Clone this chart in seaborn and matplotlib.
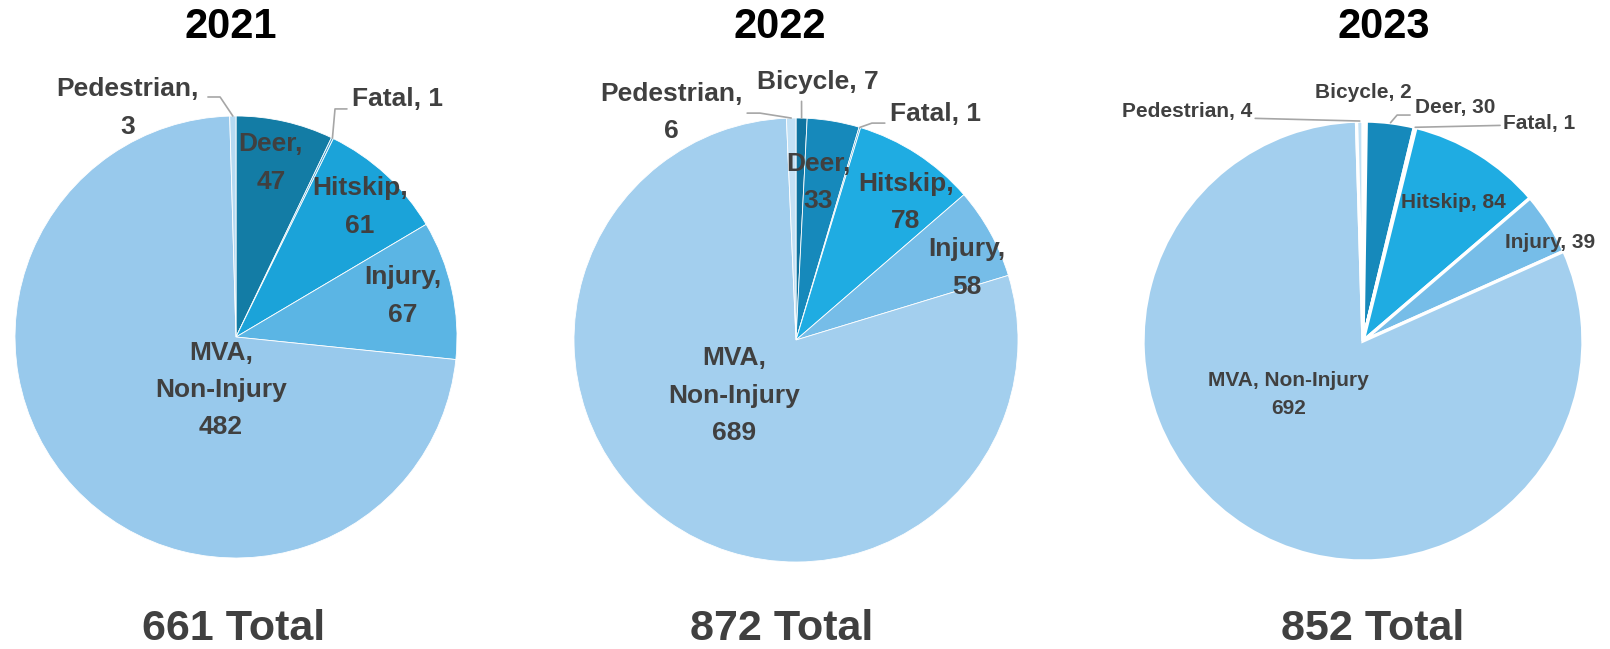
import matplotlib
matplotlib.use("Agg")
import numpy as np
import matplotlib.pyplot as plt
import seaborn as sns

sns.set_theme(style="white")
plt.rcParams["font.family"] = ["Liberation Sans", "DejaVu Sans"]

W, H = 1610, 649
TEXT_GREY = "#404040"
LEADER_GREY = "#A6A6A6"

# ---- data -------------------------------------------------------------
years = ["2021", "2022", "2023"]

cats_2021 = ["Deer", "Fatal", "Hitskip", "Injury", "MVA, Non-Injury", "Pedestrian"]
counts_2021 = [47, 1, 61, 67, 482, 3]

cats_2022 = ["Bicycle", "Deer", "Fatal", "Hitskip", "Injury", "MVA, Non-Injury", "Pedestrian"]
counts_2022 = [7, 33, 1, 78, 58, 689, 6]

cats_2023 = ["Bicycle", "Deer", "Fatal", "Hitskip", "Injury", "MVA, Non-Injury", "Pedestrian"]
counts_2023 = [2, 30, 1, 84, 39, 692, 4]

colors_2021 = {"Deer": "#137CA5", "Fatal": "#3E9CCB", "Hitskip": "#1BA3D9",
               "Injury": "#5BB5E4", "MVA, Non-Injury": "#98C9EC", "Pedestrian": "#B5DAF2"}
colors_2022 = {"Bicycle": "#0F74A0", "Deer": "#1689BB", "Fatal": "#3E9CCB", "Hitskip": "#1FACE2",
               "Injury": "#76BDE8", "MVA, Non-Injury": "#A3CFEE", "Pedestrian": "#C3E1F5"}
colors_2023 = colors_2022

# ---- layout (pixel centres / radii, label offsets in radius units) ------
layout = {
    "2021": dict(center=(236, 337), r=221, lw=0.6, fs=19, ls=1.7, wrap=True,
                 title_x=231, total_x=234,
                 labels={"Deer": (0.158, 0.787), "Fatal": (0.733, 1.077),
                         "Hitskip": (0.561, 0.588), "Injury": (0.756, 0.186),
                         "MVA, Non-Injury": (-0.068, -0.24), "Pedestrian": (-0.49, 1.036)},
                 single=["Fatal"],
                 leaders={"Pedestrian": [(-0.127, 1.086), (-0.072, 1.086)],
                          "Fatal": [(0.502, 1.032), (0.448, 1.032)]}),
    "2022": dict(center=(796, 340), r=222, lw=0.6, fs=19, ls=1.7, wrap=True,
                 title_x=780, total_x=782,
                 labels={"Bicycle": (0.10, 1.162), "Deer": (0.10, 0.71), "Fatal": (0.63, 1.02),
                         "Hitskip": (0.495, 0.62), "Injury": (0.77, 0.325),
                         "MVA, Non-Injury": (-0.28, -0.25), "Pedestrian": (-0.56, 1.025)},
                 single=["Bicycle", "Fatal"],
                 leaders={"Bicycle": [(0.025, 1.075)],
                          "Pedestrian": [(-0.22, 1.022), (-0.162, 1.022)],
                          "Fatal": [(0.40, 0.977), (0.342, 0.977)]}),
    "2023": dict(center=(1363, 341), r=220, lw=2.4, fs=15, ls=1.65, wrap=False,
                 title_x=1384, total_x=1373,
                 labels={"Bicycle": (0.0, 1.13), "Deer": (0.42, 1.06), "Fatal": (0.80, 0.99),
                         "Hitskip": (0.41, 0.63), "Injury": (0.85, 0.45),
                         "MVA, Non-Injury": (-0.34, -0.243), "Pedestrian": (-0.80, 1.045)},
                 single=[],
                 leaders={"Pedestrian": [(-0.49, 1.012)],
                          "Deer": [(0.214, 1.027), (0.155, 1.027)],
                          "Fatal": [(0.623, 0.98)]}),
}

data = {
    "2021": (cats_2021, counts_2021, colors_2021),
    "2022": (cats_2022, counts_2022, colors_2022),
    "2023": (cats_2023, counts_2023, colors_2023),
}


def make_label(cat, n, wrap):
    if cat.startswith("MVA"):
        return ("MVA,\nNon-Injury\n%d" % n) if wrap else ("%s\n%d" % (cat, n))
    return ("%s,\n%d" % (cat, n)) if wrap else ("%s, %d" % (cat, n))


fig = plt.figure(figsize=(W / 100, H / 100), dpi=100)

for year in years:
    cats, counts, cmap = data[year]
    lay = layout[year]
    cx, cy = lay["center"]
    r = lay["r"]
    ax = fig.add_axes([(cx - r) / W, (H - cy - r) / H, 2 * r / W, 2 * r / H])
    wedges, _ = ax.pie(counts, colors=[cmap[c] for c in cats], startangle=90,
                       counterclock=False, radius=1,
                       wedgeprops=dict(linewidth=lay["lw"], edgecolor="white"))
    ax.set_xlim(-1, 1)
    ax.set_ylim(-1, 1)
    ax.set_aspect("equal")
    ax.axis("off")

    for cat, n, w in zip(cats, counts, wedges):
        dx, dy = lay["labels"][cat]
        wrap = lay["wrap"] and cat not in lay["single"]
        ax.text(dx, dy, make_label(cat, n, wrap), ha="center", va="center",
                fontsize=lay["fs"], fontweight="bold", color=TEXT_GREY,
                linespacing=lay["ls"], clip_on=False)
        if cat in lay["leaders"]:
            mid = np.deg2rad((w.theta1 + w.theta2) / 2)
            pts = lay["leaders"][cat] + [(np.cos(mid), np.sin(mid))]
            xs, ys = zip(*pts)
            ax.plot(xs, ys, color=LEADER_GREY, lw=1.2, clip_on=False)

    fig.text(lay["title_x"] / W, 1 - 27 / H, year, ha="center", va="center",
             fontsize=30, fontweight="bold", color="black")
    fig.text(lay["total_x"] / W, 1 - 629 / H, "%d Total" % sum(counts), ha="center",
             va="center", fontsize=31, fontweight="bold", color=TEXT_GREY)

fig.savefig("out.png", dpi=100)
